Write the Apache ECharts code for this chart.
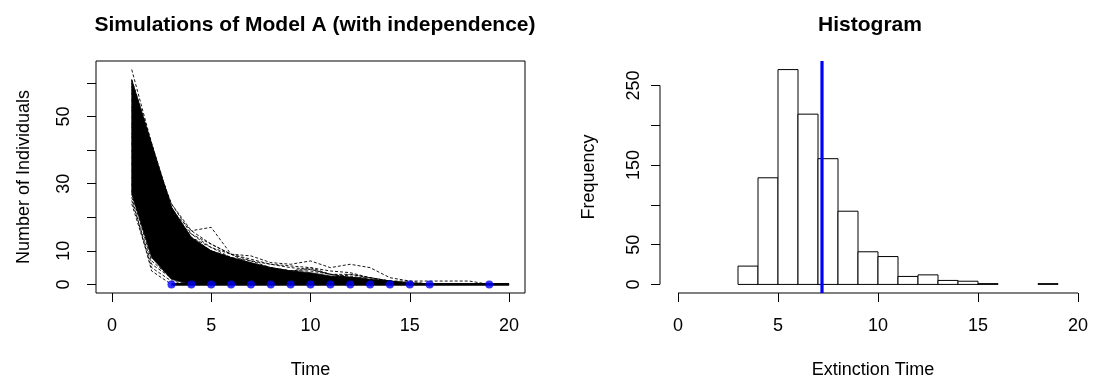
<!DOCTYPE html>
<html><head><meta charset="utf-8">
<script src="https://cdn.jsdelivr.net/npm/echarts@6/dist/echarts.min.js"></script>
<style>html,body{margin:0;padding:0;background:#fff}#c{width:1093px;height:381px}</style>
</head><body><div id="c"></div>
<script>
// ---------- data ----------
const times = [1,2,3,4,5,6,7,8,9,10,11,12,13,14,15,16,17,18,19,20];
// dense core of the ~1000 simulated paths (solid black mass)
const coreUpper = [61, 42, 23, 14, 10, 8, 6.5, 5, 4, 3.5, 2.5, 2.2, 1.5, 1, 0.6, 0, 0, 0, 0, 0];
const coreLower = [27, 8, 1.5, 0, 0, 0, 0, 0, 0, 0, 0, 0, 0, 0, 0, 0, 0, 0, 0, 0];
// individual paths visible around the core (values at times 1,2,3,... until extinction)
const traj01 = [64, 42, 23, 13, 8, 6, 4, 3, 2, 1, 0];
const traj02 = [60, 41, 22, 16, 17, 9, 6, 4, 3, 2, 1, 0];
const traj03 = [58, 40, 24, 16, 12, 9, 8.5, 6.5, 6, 7, 5, 6, 5, 2, 1, 1, 1, 1, 0];
const traj04 = [55, 38, 22, 14, 11, 9, 7.5, 6, 5.5, 5, 4, 3.5, 2, 1, 0];
const traj05 = [52, 36, 20, 13, 10, 8, 7, 6, 5, 4.5, 3, 2, 1, 0];
const traj06 = [50, 34, 21, 12, 9, 7, 6, 5, 4, 5, 3, 3, 2, 1, 0];
const traj07 = [47, 30, 18, 11, 8, 6, 5, 4, 3, 2, 1, 0];
const traj08 = [44, 28, 16, 10, 7, 5, 4, 3, 2, 1, 0];
const traj09 = [40, 24, 14, 8, 5, 3, 2, 1, 0];
const traj10 = [36, 20, 11, 6, 4, 2, 1, 0];
const traj11 = [32, 16, 8, 4, 2, 1, 0];
const traj12 = [28, 12, 5, 2, 1, 0];
const traj13 = [25, 6, 2, 0];
const traj14 = [26, 4, 0];
const traj15 = [30, 9, 3, 1, 0];
const traj16 = [27, 7, 2, 1, 0];
const traj17 = [24, 5, 1, 0];
const traj18 = [57, 40, 23, 14, 10, 7, 5, 3.5, 3, 2.5, 2, 3, 2, 1, 0];
const traj19 = [61, 42, 20, 12, 9, 8, 6, 5, 4, 4, 3, 2.5, 1.5, 1, 1, 0];
const traj20 = [45, 30, 17, 12, 10, 8, 6, 5, 4, 3, 2, 2, 1, 1, 0];
const traj21 = [38, 25, 15, 9, 7, 6, 4, 3, 2, 2, 1, 1, 0];
const traj22 = [34, 22, 13, 10, 8, 5, 4, 3, 3, 2, 1, 0];
const traj23 = [42, 26, 17, 11, 9, 7, 5, 4, 3, 1, 0];
const traj24 = [48, 32, 19, 13, 10, 6, 5, 4, 2, 0];
const traj25 = [53, 35, 21, 15, 11, 8, 6, 3, 1, 0];
const traj26 = [59, 39, 24, 15, 12, 9, 7, 5, 4, 4.5, 3, 2, 2, 1, 0];
const trajectories = [traj01,traj02,traj03,traj04,traj05,traj06,traj07,traj08,traj09,traj10,traj11,traj12,traj13,
  traj14,traj15,traj16,traj17,traj18,traj19,traj20,traj21,traj22,traj23,traj24,traj25,traj26];
const extinctionTimes = [3,4,5,6,7,8,9,10,11,12,13,14,15,16,19];

// histogram of extinction times
const binStarts = [3,4,5,6,7,8,9,10,11,12,13,14,15,16,17,18];
const binEnds   = [4,5,6,7,8,9,10,11,12,13,14,15,16,17,18,19];
const binCounts = [23,134,270,214,158,92,41,35,10,12,5,4,1,0,0,1];
const meanExtinction = 7.2;

// ticks / labels
const leftXTicks = [0,5,10,15,20];
const leftYTicks = [0,10,20,30,40,50,60];
const leftYLabels = [0,10,30,50];
const rightXTicks = [0,5,10,15,20];
const rightYTicks = [0,50,100,150,200,250];
const rightYLabels = [0,50,150,250];

// ---------- chart ----------
const FONT = 'Liberation Sans, Arial, Helvetica, sans-serif';
const L = {xMin:-0.8, xMax:20.8, yMin:-2.56, yMax:66.56};
const R = {xMin:-0.9, xMax:20.4, yMin:-10.8, yMax:280.8};

const chart = echarts.init(document.getElementById('c'), null, {renderer:'canvas'});

function axisCommon(ticks, labels, rotate, margin) {
  return {
    axisLine:{show:false, onZero:false},
    axisTick:{show:true, inside:false, length:9, customValues:ticks, lineStyle:{color:'#000', width:1}},
    axisLabel:{show:true, customValues:labels, rotate:rotate, margin:margin, color:'#000', fontSize:18, fontFamily:FONT},
    splitLine:{show:false},
    nameTextStyle:{color:'#000', fontSize:18, fontFamily:FONT}
  };
}

const series = [];
// core band
series.push({
  type:'custom', xAxisIndex:0, yAxisIndex:0, silent:true, z:2,
  data:[[times[0], coreUpper[0]]],
  renderItem:function(params, api){
    const pts = [];
    for (let i=0;i<times.length;i++) pts.push(api.coord([times[i], coreUpper[i]]));
    for (let i=times.length-1;i>=0;i--) pts.push(api.coord([times[i], coreLower[i]]));
    return {type:'polygon', shape:{points:pts}, style:{fill:'#000', stroke:'#000', lineWidth:0.8}};
  }
});
// individual dashed paths
trajectories.forEach(function(tr){
  series.push({
    type:'line', xAxisIndex:0, yAxisIndex:0, silent:true, z:3, symbol:'none', animation:false,
    data: tr.map(function(v,i){ return [times[i], v]; }),
    lineStyle:{color:'#000', width:0.9, type:[3,2]}
  });
});
// extinct paths lying on zero
series.push({
  type:'line', xAxisIndex:0, yAxisIndex:0, silent:true, z:4, symbol:'none',
  data:[[extinctionTimes[0],0],[times[times.length-1],0]],
  lineStyle:{color:'#000', width:2.6, type:'solid'}
});
// extinction points
series.push({
  type:'scatter', xAxisIndex:0, yAxisIndex:0, silent:true, z:5, symbol:'circle', symbolSize:8,
  data: extinctionTimes.map(function(t){ return [t,0]; }),
  itemStyle:{color:'#0000ff'}
});

// histogram bars
series.push({
  type:'custom', xAxisIndex:1, yAxisIndex:1, silent:true, z:2,
  data: binStarts.map(function(s,i){ return [s, binEnds[i], binCounts[i]]; }).filter(function(d){ return d[2] > 0; }),
  renderItem:function(params, api){
    const p0 = api.coord([api.value(0), 0]);
    const p1 = api.coord([api.value(1), api.value(2)]);
    return {type:'rect', shape:{x:p0[0], y:p1[1], width:p1[0]-p0[0], height:p0[1]-p1[1]},
      style:{fill:'#fff', stroke:'#000', lineWidth:1}};
  }
});
// mean line
series.push({
  type:'line', xAxisIndex:1, yAxisIndex:1, silent:true, z:6, symbol:'none', clip:false,
  data:[[meanExtinction, R.yMin],[meanExtinction, R.yMax]],
  lineStyle:{color:'#0000ff', width:3.2}
});
// R-style axis lines for histogram
series.push({
  type:'line', xAxisIndex:1, yAxisIndex:1, silent:true, z:1, symbol:'none', clip:false,
  data:[[rightXTicks[0], R.yMin],[rightXTicks[rightXTicks.length-1], R.yMin]],
  lineStyle:{color:'#000', width:1}
});
series.push({
  type:'line', xAxisIndex:1, yAxisIndex:1, silent:true, z:1, symbol:'none', clip:false,
  data:[[R.xMin, rightYTicks[0]],[R.xMin, rightYTicks[rightYTicks.length-1]]],
  lineStyle:{color:'#000', width:1}
});

const option = {
  animation:false,
  backgroundColor:'#fff',
  textStyle:{fontFamily:FONT},
  title:[
    {text:'Simulations of Model A (with independence)', left:310, top:10, textAlign:'center',
     textStyle:{fontSize:21, fontWeight:'bold', color:'#000', fontFamily:FONT}},
    {text:'Histogram', left:865, top:10, textAlign:'center',
     textStyle:{fontSize:21, fontWeight:'bold', color:'#000', fontFamily:FONT}}
  ],
  grid:[
    {left:96, top:61, width:429, height:232, show:true, borderColor:'#000', borderWidth:1, backgroundColor:'transparent',
     containLabel:false, outerBoundsMode:'none'},
    {left:660, top:61, width:(R.xMax-R.xMin)*20, height:232, show:false, containLabel:false, outerBoundsMode:'none'}
  ],
  xAxis:[
    Object.assign(axisCommon(leftXTicks, leftXTicks, 0, 24), {gridIndex:0, type:'value', min:L.xMin, max:L.xMax,
      name:'Time', nameLocation:'middle', nameGap:68}),
    Object.assign(axisCommon(rightXTicks, rightXTicks, 0, 24), {gridIndex:1, type:'value', min:R.xMin, max:R.xMax,
      name:'Extinction Time', nameLocation:'middle', nameGap:68})
  ],
  yAxis:[
    Object.assign(axisCommon(leftYTicks, leftYLabels, 90, 23), {gridIndex:0, type:'value', min:L.yMin, max:L.yMax,
      name:'Number of Individuals', nameLocation:'middle', nameGap:63}),
    Object.assign(axisCommon(rightYTicks, rightYLabels, 90, 17), {gridIndex:1, type:'value', min:R.yMin, max:R.yMax,
      name:'Frequency', nameLocation:'middle', nameGap:62})
  ],
  series: series
};
chart.setOption(option);
</script>
</body></html>
